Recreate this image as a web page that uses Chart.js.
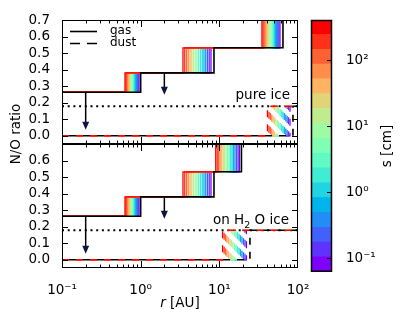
<!DOCTYPE html>
<html>
<head>
<meta charset="utf-8">
<script src="https://cdn.jsdelivr.net/npm/chart.js@4"></script>
<style>
  body { margin: 0; background: #fff; }
  #wrap { position: relative; width: 415px; height: 332px; }
  canvas { position: absolute; top: 0; }
</style>
</head>
<body>
<div id="wrap">
  <canvas id="top" width="415" height="332" style="left:0"></canvas>
  <canvas id="bottom" width="415" height="332" style="left:0"></canvas>
  <canvas id="cbar" width="110" height="332" style="left:305px"></canvas>
</div>
<script>
// grain size bins [cm] of the colour bar, small -> large
const sizeEdges = [0.0631, 0.106, 0.177, 0.297, 0.499, 0.836, 1.40, 2.35, 3.94, 6.61, 11.1, 18.6, 31.2, 52.3, 87.7, 147, 247, 407];
const sizeTicks = [0.1, 1, 10, 100];
const sizeTickLabels = ['10⁻¹', '10⁰', '10¹', '10²'];

const xTicks = [0.1, 1, 10, 100];
const xTickLabels = ['10⁻¹', '10⁰', '10¹', '10²'];
const yTopTicks = [0, 0.1, 0.2, 0.3, 0.4, 0.5, 0.6, 0.7];
const yBotTicks = [0, 0.1, 0.2, 0.3, 0.4, 0.5, 0.6];

// N/O plateaus of gas (last one is off the chart) and dust
const gasLevels = [0.263, 0.38, 0.532, 1.0];
const dustLevels = [0.0, 0.178];
const iceLevel = 0.178;

// radii [AU] where each grain size (small -> large) steps up
const gasStep1 = [0.952, 0.929, 0.906, 0.883, 0.859, 0.838, 0.817, 0.796, 0.776, 0.757, 0.738, 0.719, 0.701, 0.682, 0.665, 0.649, 0.632];
const gasStep2 = [7.83, 7.44, 7.07, 6.72, 6.38, 6.06, 5.76, 5.47, 5.20, 4.94, 4.69, 4.46, 4.24, 4.03, 3.83, 3.63, 3.45];
const gasStep3Pure = [59.0, 57.1, 55.2, 53.5, 51.8, 50.0, 48.4, 46.9, 45.4, 43.9, 42.5, 41.1, 39.7, 38.5, 37.2, 36.0, 34.8];
const gasStep3OnIce = [18.0, 17.3, 16.5, 15.8, 15.1, 14.5, 13.9, 13.3, 12.7, 12.2, 11.7, 11.2, 10.7, 10.2, 9.8, 9.4, 9.0];
const dustStepPure = [79.1, 75.9, 72.8, 69.9, 67.0, 64.4, 61.8, 59.3, 56.9, 54.6, 52.4, 50.2, 48.3, 46.3, 44.5, 42.7, 40.9];
const dustStepOnIce = [22.1, 21.2, 20.3, 19.4, 18.6, 17.8, 17.0, 16.3, 15.6, 14.9, 14.3, 13.7, 13.1, 12.5, 12.0, 11.5, 11.0];

// black reference curves
const refGasPure = [1.0, 8.55, 64.4];
const refGasOnIce = [1.0, 8.55, 19.1];
const refDustPure = 86.3;
const refDustOnIce = 24.5;

// arrows: [r, from, to]
const arrows = [[0.2, 0.263, 0.036], [2.0, 0.38, 0.248]];

Chart.defaults.font.family = '"DejaVu Sans", sans-serif';
Chart.defaults.font.size = 13.5;
Chart.defaults.color = '#000';

function rainbow(t) {
  const r = Math.min(1, Math.abs(2 * t - 0.5)), g = Math.sin(Math.PI * t), b = Math.cos(Math.PI * t / 2);
  return `rgb(${Math.round(r * 255)},${Math.round(g * 255)},${Math.round(b * 255)})`;
}
const nSizes = sizeEdges.length - 1;
const colors = sizeEdges.slice(1).map((_, i) => rainbow(i / (nSizes - 1)));

function stepPoints(levels, radii) {
  const pts = [{x: xTicks[0], y: levels[0]}];
  radii.forEach((r, k) => pts.push({x: r, y: levels[k + 1]}));
  return pts;
}
function dustPoints(r) {
  const pts = stepPoints(dustLevels, [r]);
  pts.push({x: xTicks[xTicks.length - 1], y: dustLevels[1]});
  return pts;
}

function panelDatasets(gas3, dust, refGas, refDust) {
  const ds = [];
  // first dataset is drawn on top
  ds.push({data: stepPoints(gasLevels, refGas), borderColor: '#000', borderWidth: 1.6});
  ds.push({data: dustPoints(refDust), borderColor: '#000', borderWidth: 1.6, borderDash: [7, 7], borderDashOffset: 7});
  for (let i = nSizes - 1; i >= 0; i--)
    ds.push({data: stepPoints(gasLevels, [gasStep1[i], gasStep2[i], gas3[i]]), borderColor: colors[i], borderWidth: 1.3});
  for (let i = nSizes - 1; i >= 0; i--)
    ds.push({data: dustPoints(dust[i]), borderColor: colors[i], borderWidth: 1.3, borderDash: [7, 7]});
  ds.push({data: [{x: xTicks[0], y: iceLevel}, {x: xTicks[xTicks.length - 1], y: iceLevel}],
           borderColor: '#000', borderWidth: 2, borderDash: [2, 3.7], stepped: false});
  return ds.map(d => Object.assign({stepped: true, pointRadius: 0, fill: false, clip: 0, borderCapStyle: 'butt'}, d));
}

function makeFrame(p) {
  return {
    id: 'frame',
    afterDatasetsDraw(chart) {
      const {ctx, chartArea: a} = chart;
      const x = chart.scales.x, y = chart.scales.y;
      ctx.save();
      // arrows
      for (const [r, from, to] of arrows) {
        const px = x.getPixelForValue(r), p0 = y.getPixelForValue(from), p1 = y.getPixelForValue(to);
        ctx.strokeStyle = '#000'; ctx.lineWidth = 1.5;
        ctx.beginPath(); ctx.moveTo(px, p0); ctx.lineTo(px, p1 - 6); ctx.stroke();
        ctx.fillStyle = '#0d1440';
        ctx.beginPath(); ctx.moveTo(px - 3.5, p1 - 8); ctx.lineTo(px + 3.5, p1 - 8); ctx.lineTo(px, p1); ctx.closePath(); ctx.fill();
      }
      // frame with inward ticks
      const L = a.left, R = a.right, T = a.top, B = a.bottom;
      ctx.strokeStyle = '#000'; ctx.lineWidth = 1;
      ctx.strokeRect(L + 0.5, T + 0.5, R - L - 1, B - T - 1);
      ctx.beginPath();
      for (let e = -1; e < 2; e++) for (let k = 1; k <= 9; k++) {
        const px = Math.round(x.getPixelForValue(k * Math.pow(10, e))) + 0.5;
        const len = k === 1 ? 7 : 3.5;
        ctx.moveTo(px, B); ctx.lineTo(px, B - len);
        ctx.moveTo(px, T); ctx.lineTo(px, T + len);
      }
      for (const v of p.yTicks) {
        const py = Math.round(y.getPixelForValue(v)) + 0.5;
        ctx.moveTo(L, py); ctx.lineTo(L + 6, py);
        ctx.moveTo(R, py); ctx.lineTo(R - 6, py);
      }
      ctx.stroke();

      ctx.fillStyle = '#000';
      if (p.legend) {
        ctx.lineWidth = 1.6;
        ctx.beginPath(); ctx.moveTo(70, 31.5); ctx.lineTo(97, 31.5); ctx.stroke();
        ctx.setLineDash([10, 7]);
        ctx.beginPath(); ctx.moveTo(70, 43.5); ctx.lineTo(97, 43.5); ctx.stroke();
        ctx.setLineDash([]);
        ctx.font = '12px "DejaVu Sans"'; ctx.textAlign = 'left'; ctx.textBaseline = 'middle';
        ctx.fillText('gas', 110, 31);
        ctx.fillText('dust', 110, 43);
      }
      ctx.textBaseline = 'alphabetic';
      if (p.label === 'pure') {
        ctx.font = '13.5px "DejaVu Sans"'; ctx.textAlign = 'right';
        ctx.fillText('pure ice', 290, 98.5);
      } else {
        const big = '13.5px "DejaVu Sans"', small = '9.5px "DejaVu Sans"';
        ctx.textAlign = 'left';
        ctx.font = big; const w1 = ctx.measureText('on H').width, w3 = ctx.measureText(' O ice').width;
        ctx.font = small; const w2 = ctx.measureText('2').width;
        let sx = 289 - (w1 + w2 + w3);
        ctx.font = big; ctx.fillText('on H', sx, 223.5); sx += w1;
        ctx.font = small; ctx.fillText('2', sx, 227.5); sx += w2;
        ctx.font = big; ctx.fillText(' O ice', sx, 223.5);
        // axis titles
        ctx.font = 'italic 13.5px "DejaVu Sans"';
        const wr = ctx.measureText('r').width;
        ctx.font = big; const wa = ctx.measureText(' [AU]').width;
        let tx = 180 - (wr + wa) / 2;
        ctx.font = 'italic 13.5px "DejaVu Sans"'; ctx.fillText('r', tx, 306.5);
        ctx.font = big; ctx.fillText(' [AU]', tx + wr, 306.5);
        ctx.save();
        ctx.translate(19.5, 134); ctx.rotate(-Math.PI / 2);
        ctx.textAlign = 'center'; ctx.fillText('N/O ratio', 0, 0);
        ctx.restore();
      }
      ctx.restore();
    }
  };
}

function panelChart(id, p, datasets) {
  return new Chart(document.getElementById(id), {
    type: 'line',
    data: {datasets: datasets},
    options: {
      responsive: false, animation: false, devicePixelRatio: 1,
      layout: {padding: {left: 0, right: 117, top: p.top, bottom: p.bottom}},
      plugins: {legend: {display: false}, tooltip: {enabled: false}},
      scales: {
        x: {type: 'logarithmic', min: 0.1, max: 100, display: p.showX,
            grid: {display: false}, border: {display: false},
            afterBuildTicks: s => { s.ticks = xTicks.map(v => ({value: v})); },
            ticks: {autoSkip: false, maxRotation: 0, padding: 6, callback: (v, i) => xTickLabels[i]},
            afterFit: s => { if (p.showX) s.height = 64; }},
        y: {type: 'linear', min: -0.05, max: 0.7,
            grid: {display: false}, border: {display: false},
            afterBuildTicks: s => { s.ticks = p.yTicks.map(v => ({value: v})); },
            ticks: {autoSkip: false, padding: 4, callback: v => v.toFixed(1)},
            afterFit: s => { s.width = 62; }}
      }
    },
    plugins: [makeFrame(p)]
  });
}

panelChart('top', {top: 20, bottom: 188, showX: false, yTicks: yTopTicks, legend: true, label: 'pure'},
  panelDatasets(gasStep3Pure, dustStepPure, refGasPure, refDustPure));
panelChart('bottom', {top: 144, bottom: 0, showX: true, yTicks: yBotTicks, legend: false, label: 'ice'},
  panelDatasets(gasStep3OnIce, dustStepOnIce, refGasOnIce, refDustOnIce));

// colour bar
const cbarFrame = {
  id: 'cbarFrame',
  afterDatasetsDraw(chart) {
    const {ctx, chartArea: a} = chart;
    const y = chart.scales.y;
    ctx.save();
    ctx.strokeStyle = '#000'; ctx.lineWidth = 1.5;
    ctx.strokeRect(a.left + 0.5, a.top + 0.5, a.width - 1, a.height - 1);
    ctx.lineWidth = 1;
    ctx.beginPath();
    for (const v of sizeTicks) {
      const py = Math.round(y.getPixelForValue(v)) + 0.5;
      ctx.moveTo(a.right, py); ctx.lineTo(a.right - 5, py);
    }
    ctx.stroke();
    ctx.fillStyle = '#000';
    ctx.font = '13.5px "DejaVu Sans"'; ctx.textAlign = 'center'; ctx.textBaseline = 'alphabetic';
    ctx.translate(391 - 305, 146); ctx.rotate(-Math.PI / 2);
    ctx.fillText('s [cm]', 0, 0);
    ctx.restore();
  }
};

new Chart(document.getElementById('cbar'), {
  type: 'bar',
  data: {
    labels: ['s'],
    datasets: sizeEdges.slice(0, -1).map((lo, i) => ({
      data: [[lo, sizeEdges[i + 1]]], backgroundColor: colors[i], borderWidth: 0,
      barPercentage: 1, categoryPercentage: 1, grouped: false
    }))
  },
  options: {
    responsive: false, animation: false, devicePixelRatio: 1,
    layout: {padding: {left: 6, top: 20, bottom: 60.3, right: 0}},
    plugins: {legend: {display: false}, tooltip: {enabled: false}},
    scales: {
      x: {display: false},
      y: {type: 'logarithmic', position: 'right', min: sizeEdges[0], max: sizeEdges[nSizes],
          grid: {display: false}, border: {display: false},
          afterBuildTicks: s => { s.ticks = sizeTicks.map(v => ({value: v})); },
          ticks: {autoSkip: false, padding: 6, callback: (v, i) => sizeTickLabels[i]},
          afterFit: s => { s.width = 83; }}
    }
  },
  plugins: [cbarFrame]
});
</script>
</body>
</html>
